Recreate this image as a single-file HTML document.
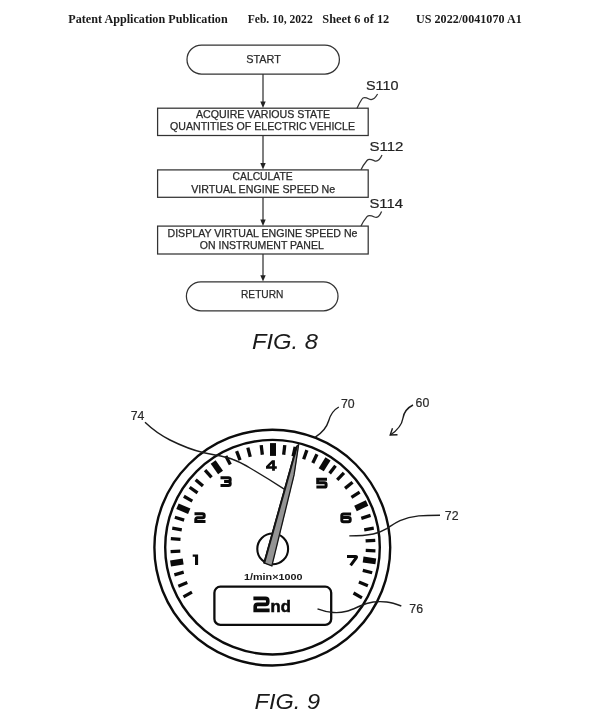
<!DOCTYPE html>
<html><head><meta charset="utf-8"><title>Patent</title>
<style>
html,body{margin:0;padding:0;background:#fff;}
body{width:600px;height:722px;overflow:hidden;font-family:"Liberation Sans",sans-serif;}
svg{display:block;filter:grayscale(1) blur(0.3px);}
.hd{font-family:"Liberation Serif",serif;font-weight:bold;font-size:13px;fill:#1a1a1a;}
.bx{font-family:"Liberation Sans",sans-serif;font-size:10.4px;fill:#2a2a2a;stroke:#2a2a2a;stroke-width:0.25px;}
.st{font-family:"Liberation Sans",sans-serif;font-size:13px;fill:#222;stroke:#222;stroke-width:0.2px;}
.fig{font-family:"Liberation Sans",sans-serif;font-style:italic;font-size:22px;fill:#1a1a1a;}
.lb{font-family:"Liberation Sans",sans-serif;font-size:12.3px;fill:#2a2a2a;stroke:#2a2a2a;stroke-width:0.2px;}
</style></head><body>
<svg width="600" height="722" viewBox="0 0 600 722">
<rect width="600" height="722" fill="#fff"/>
<!-- header -->
<text class="hd" x="68.3" y="22.7" textLength="159.4" lengthAdjust="spacingAndGlyphs">Patent Application Publication</text>
<text class="hd" x="247.7" y="22.7" textLength="65" lengthAdjust="spacingAndGlyphs">Feb. 10, 2022</text>
<text class="hd" x="322.3" y="22.7" textLength="67" lengthAdjust="spacingAndGlyphs">Sheet 6 of 12</text>
<text class="hd" x="416" y="22.7" textLength="105.7" lengthAdjust="spacingAndGlyphs">US 2022/0041070 A1</text>

<!-- flowchart -->
<g fill="none" stroke="#333" stroke-width="1.25">
<rect x="187" y="45" width="152.4" height="29" rx="14.5" ry="14.5"/>
<rect x="157.6" y="108.2" width="210.6" height="27.3"/>
<rect x="157.6" y="169.9" width="210.6" height="27.4"/>
<rect x="157.6" y="226.1" width="210.6" height="27.9"/>
<rect x="186.4" y="281.8" width="151.6" height="29" rx="14.5" ry="14.5"/>
<line x1="263" y1="74" x2="263" y2="103"/>
<line x1="263" y1="135.5" x2="263" y2="165"/>
<line x1="263" y1="197.2" x2="263" y2="221"/>
<line x1="263" y1="254" x2="263" y2="277"/>
<path d="M377.6 94 C375 98.5 372 100.5 369 99 C366 97.5 363.5 96.5 362 99 C360 102 358.5 105 357 108.2"/>
<path d="M382 155 C380 159.5 377.5 162 374.5 160.8 C371.5 159.6 369 158.2 367 160.5 C364.5 163.5 362.5 166.5 361 169.7"/>
<path d="M381.6 211.6 C379.8 216 377.3 218.3 374.5 217 C371.5 215.6 369 214.4 367 216.6 C364.5 219.6 362.5 222.8 361 226.1"/>
</g>
<g fill="#222" stroke="none">
<path d="M263 108 L260.3 101.6 L265.7 101.6 Z"/>
<path d="M263 169.5 L260.3 163.1 L265.7 163.1 Z"/>
<path d="M263 225.9 L260.3 219.5 L265.7 219.5 Z"/>
<path d="M263 281.6 L260.3 275.2 L265.7 275.2 Z"/>
</g>
<g class="bx">
<text x="246.2" y="62.5" font-size="11.2" textLength="34.6" lengthAdjust="spacingAndGlyphs">START</text>
<text x="196" y="118" textLength="134" lengthAdjust="spacingAndGlyphs">ACQUIRE VARIOUS STATE</text>
<text x="170" y="130.2" textLength="185" lengthAdjust="spacingAndGlyphs">QUANTITIES OF ELECTRIC VEHICLE</text>
<text x="232.6" y="180.4" textLength="60" lengthAdjust="spacingAndGlyphs">CALCULATE</text>
<text x="191.2" y="193.1" textLength="144" lengthAdjust="spacingAndGlyphs">VIRTUAL ENGINE SPEED Ne</text>
<text x="167.5" y="236.5" textLength="190" lengthAdjust="spacingAndGlyphs">DISPLAY VIRTUAL ENGINE SPEED Ne</text>
<text x="199.8" y="248.8" textLength="124" lengthAdjust="spacingAndGlyphs">ON INSTRUMENT PANEL</text>
<text x="241" y="298.4" font-size="11.2" textLength="42.4" lengthAdjust="spacingAndGlyphs">RETURN</text>
</g>
<text class="st" x="366" y="90" textLength="32.6" lengthAdjust="spacingAndGlyphs">S110</text>
<text class="st" x="369.4" y="151.4" textLength="34" lengthAdjust="spacingAndGlyphs">S112</text>
<text class="st" x="369.4" y="208" textLength="33.6" lengthAdjust="spacingAndGlyphs">S114</text>
<text class="fig" x="252" y="348.7" textLength="66" lengthAdjust="spacingAndGlyphs">FIG. 8</text>
<text class="fig" x="254.6" y="708.8" textLength="65.4" lengthAdjust="spacingAndGlyphs">FIG. 9</text>

<!-- gauge -->
<g fill="none" stroke="#0c0c0c">
<circle cx="272.3" cy="547.6" r="117.9" stroke-width="2.4"/>
<circle cx="272.5" cy="547.2" r="107.3" stroke-width="2.4"/>
<circle cx="272.7" cy="548.9" r="15.4" stroke-width="2.1" fill="#fff"/>
<rect x="214.4" y="586.7" width="116.8" height="38.2" rx="6" ry="6" stroke-width="2.3"/>
</g>
<!-- needle -->
<clipPath id="nc"><path d="M299.5 443.3 L296.0 446 L263.2 563.3 L272.3 566.8 L294.7 475 Z"/></clipPath>
<g clip-path="url(#nc)">
<path d="M299.5 443.3 L296.0 446 L263.2 563.3 L272.3 566.8 L294.7 475 Z" fill="#949494" stroke="#141414" stroke-width="2.6" stroke-linejoin="miter"/>
<path d="M296.0 446 L263.2 563.3" stroke="#141414" stroke-width="3.8" fill="none"/>
</g>
<g transform="translate(273.0,546.9)" stroke="#0a0a0a" fill="none">
<line x1="0" y1="-92.8" x2="0" y2="-102.5" stroke-width="3.3" transform="rotate(-119.15)"/>
<line x1="0" y1="-92.8" x2="0" y2="-102.5" stroke-width="3.3" transform="rotate(-112.55)"/>
<line x1="0" y1="-92.8" x2="0" y2="-102.5" stroke-width="3.3" transform="rotate(-105.80)"/>
<line x1="0" y1="-91.0" x2="0" y2="-103.8" stroke-width="6.0" transform="rotate(-99.20)"/>
<line x1="0" y1="-92.8" x2="0" y2="-102.5" stroke-width="3.3" transform="rotate(-92.60)"/>
<line x1="0" y1="-92.8" x2="0" y2="-102.5" stroke-width="3.3" transform="rotate(-85.40)"/>
<line x1="0" y1="-92.8" x2="0" y2="-102.5" stroke-width="3.3" transform="rotate(-79.40)"/>
<line x1="0" y1="-92.8" x2="0" y2="-102.5" stroke-width="3.3" transform="rotate(-73.20)"/>
<line x1="0" y1="-91.0" x2="0" y2="-103.8" stroke-width="6.0" transform="rotate(-67.00)"/>
<line x1="0" y1="-92.8" x2="0" y2="-102.5" stroke-width="3.3" transform="rotate(-60.40)"/>
<line x1="0" y1="-92.8" x2="0" y2="-102.5" stroke-width="3.3" transform="rotate(-54.40)"/>
<line x1="0" y1="-92.8" x2="0" y2="-102.5" stroke-width="3.3" transform="rotate(-49.00)"/>
<line x1="0" y1="-92.8" x2="0" y2="-102.5" stroke-width="3.3" transform="rotate(-41.50)"/>
<line x1="0" y1="-91.0" x2="0" y2="-103.8" stroke-width="6.0" transform="rotate(-35.20)"/>
<line x1="0" y1="-92.8" x2="0" y2="-102.5" stroke-width="3.3" transform="rotate(-27.40)"/>
<line x1="0" y1="-92.8" x2="0" y2="-102.5" stroke-width="3.3" transform="rotate(-20.80)"/>
<line x1="0" y1="-92.8" x2="0" y2="-102.5" stroke-width="3.3" transform="rotate(-14.20)"/>
<line x1="0" y1="-92.8" x2="0" y2="-102.5" stroke-width="3.3" transform="rotate(-6.60)"/>
<line x1="0" y1="-91.0" x2="0" y2="-103.8" stroke-width="6.0" transform="rotate(0.00)"/>
<line x1="0" y1="-92.8" x2="0" y2="-102.5" stroke-width="3.3" transform="rotate(6.60)"/>
<line x1="0" y1="-92.8" x2="0" y2="-102.5" stroke-width="3.3" transform="rotate(12.50)"/>
<line x1="0" y1="-92.8" x2="0" y2="-102.5" stroke-width="3.3" transform="rotate(19.30)"/>
<line x1="0" y1="-92.8" x2="0" y2="-102.5" stroke-width="3.3" transform="rotate(25.40)"/>
<line x1="0" y1="-91.0" x2="0" y2="-103.8" stroke-width="6.0" transform="rotate(32.00)"/>
<line x1="0" y1="-92.8" x2="0" y2="-102.5" stroke-width="3.3" transform="rotate(37.60)"/>
<line x1="0" y1="-92.8" x2="0" y2="-102.5" stroke-width="3.3" transform="rotate(43.80)"/>
<line x1="0" y1="-92.8" x2="0" y2="-102.5" stroke-width="3.3" transform="rotate(50.90)"/>
<line x1="0" y1="-92.8" x2="0" y2="-102.5" stroke-width="3.3" transform="rotate(57.70)"/>
<line x1="0" y1="-91.0" x2="0" y2="-103.8" stroke-width="6.0" transform="rotate(65.00)"/>
<line x1="0" y1="-92.8" x2="0" y2="-102.5" stroke-width="3.3" transform="rotate(72.10)"/>
<line x1="0" y1="-92.8" x2="0" y2="-102.5" stroke-width="3.3" transform="rotate(79.40)"/>
<line x1="0" y1="-92.8" x2="0" y2="-102.5" stroke-width="3.3" transform="rotate(86.30)"/>
<line x1="0" y1="-92.8" x2="0" y2="-102.5" stroke-width="3.3" transform="rotate(92.20)"/>
<line x1="0" y1="-91.0" x2="0" y2="-103.8" stroke-width="6.0" transform="rotate(98.00)"/>
<line x1="0" y1="-92.8" x2="0" y2="-102.5" stroke-width="3.3" transform="rotate(104.60)"/>
<line x1="0" y1="-92.8" x2="0" y2="-102.5" stroke-width="3.3" transform="rotate(112.25)"/>
<line x1="0" y1="-92.8" x2="0" y2="-102.5" stroke-width="3.3" transform="rotate(119.80)"/>
</g>
<!-- numbers -->
<g fill="none" stroke="#0a0a0a" stroke-linejoin="miter" stroke-linecap="butt">
<path d="M0.4 0 H5.8 V10.6 H2.7 V2.4 H0.4 Z" transform="translate(192.3,554.4) scale(1.0,1.0)" fill="#0a0a0a" stroke="none" fill-rule="evenodd"/>
<path d="M0 1.3 H8 Q9.7 1.3 9.7 3 V3.6 Q9.7 5.3 8 5.3 H3 Q1.3 5.3 1.3 7 V9.1 H11" transform="translate(194.5,512.5) scale(1.0,1.0)" stroke-width="3.0"/>
<path d="M0 1.3 H8 Q9.7 1.3 9.7 3 V3.5 Q9.7 5.2 8 5.2 H3.6 M8 5.2 Q9.7 5.2 9.7 6.9 V7.4 Q9.7 9.1 8 9.1 H0" transform="translate(220.5,476.4) scale(1.0,1.0)" stroke-width="3.0"/>
<path d="M6.0 0 H8.9 V6.0 H10.8 V8.5 H8.9 V10.6 H6.1 V8.5 H0 V6.1 Z M6.1 3.4 L3.3 6.0 H6.1 Z" transform="translate(266.0,460.2) scale(1.0,1.0)" fill="#0a0a0a" stroke="none" fill-rule="evenodd"/>
<path d="M10.6 1.3 H1.3 V4.7 H8 Q9.7 4.7 9.7 6.4 V7.4 Q9.7 9.1 8 9.1 H0" transform="translate(316.4,478.0) scale(1.0,1.0)" stroke-width="3.0"/>
<path d="M10.6 1.3 H3 Q1.3 1.3 1.3 3 V7.4 Q1.3 9.1 3 9.1 H8 Q9.7 9.1 9.7 7.4 V6.6 Q9.7 4.9 8 4.9 H1.3" transform="translate(340.5,512.6) scale(1.0,1.0)" stroke-width="3.0"/>
<path d="M0 1.3 H8.4 Q10.2 1.3 9.2 2.7 L3.6 10.2" transform="translate(347.0,555.2) scale(1.0,1.0)" stroke-width="3.0"/>
</g>
<text x="244" y="579.7" font-family="Liberation Sans, sans-serif" font-weight="bold" font-size="8.8px" fill="#1a1a1a" textLength="58.4" lengthAdjust="spacingAndGlyphs">1/min×1000</text>
<g font-family="Liberation Sans, sans-serif" font-weight="bold" fill="#0a0a0a">
<text x="270.6" y="612.2" font-size="17.4px" textLength="20.2" lengthAdjust="spacingAndGlyphs" stroke="#0a0a0a" stroke-width="0.6">nd</text>
</g>
<g fill="none" stroke="#0a0a0a" stroke-linejoin="miter">
<path d="M253.40 598.40 H265.40 Q267.80 598.40 267.80 600.80 V602.00 Q267.80 604.40 265.40 604.40 H257.60 Q255.20 604.40 255.20 606.80 V610.40 H269.60" stroke-width="3.6"/>
</g>
<!-- labels -->
<g class="lb">
<text x="341" y="408.4">70</text>
<text x="415.6" y="406.6">60</text>
<text x="130.7" y="420.2">74</text>
<text x="444.8" y="520">72</text>
<text x="409.3" y="613.3">76</text>
</g>
<g fill="none" stroke="#1c1c1c" stroke-width="1.4">
<path d="M338.8 407 C332.5 410.5 330 416 328.6 421 C326.5 428 322 433 315 437.3"/>
<path d="M413 405 C407 408 404 412 403 418 C402 424 398 430 390.3 435"/>
<path d="M392.5 428.3 L390.2 435 L397.5 434.8"/>
<path d="M145 422.3 C152 429 160 435 170 440 C182 446 192 450 204 452.8 C216 455.5 224 456 233 459.5 C240 462 245 465 250 468 C261 474.5 274 482.5 284.6 489.3"/>
<path d="M440 515.3 C432 515.3 426 515.3 418.7 515.9 C411 516.8 405 518.5 400 520.7 C394 523.5 391 526 386.7 528.7 C382 531.5 378 533 373.3 534 C366 535.5 358 535.9 349.3 535.9"/>
<path d="M401.3 606 C396 604 392 602.6 386.7 602 C382 601.5 378 601.5 373.3 602 C368 602.8 364 604.2 360 606 C355 608.2 351 610.2 346.7 611.3 C342 612.5 337 612.8 333.3 612.5 C327 612 322 610.5 317.5 608.8"/>
</g>
</svg>
</body></html>
